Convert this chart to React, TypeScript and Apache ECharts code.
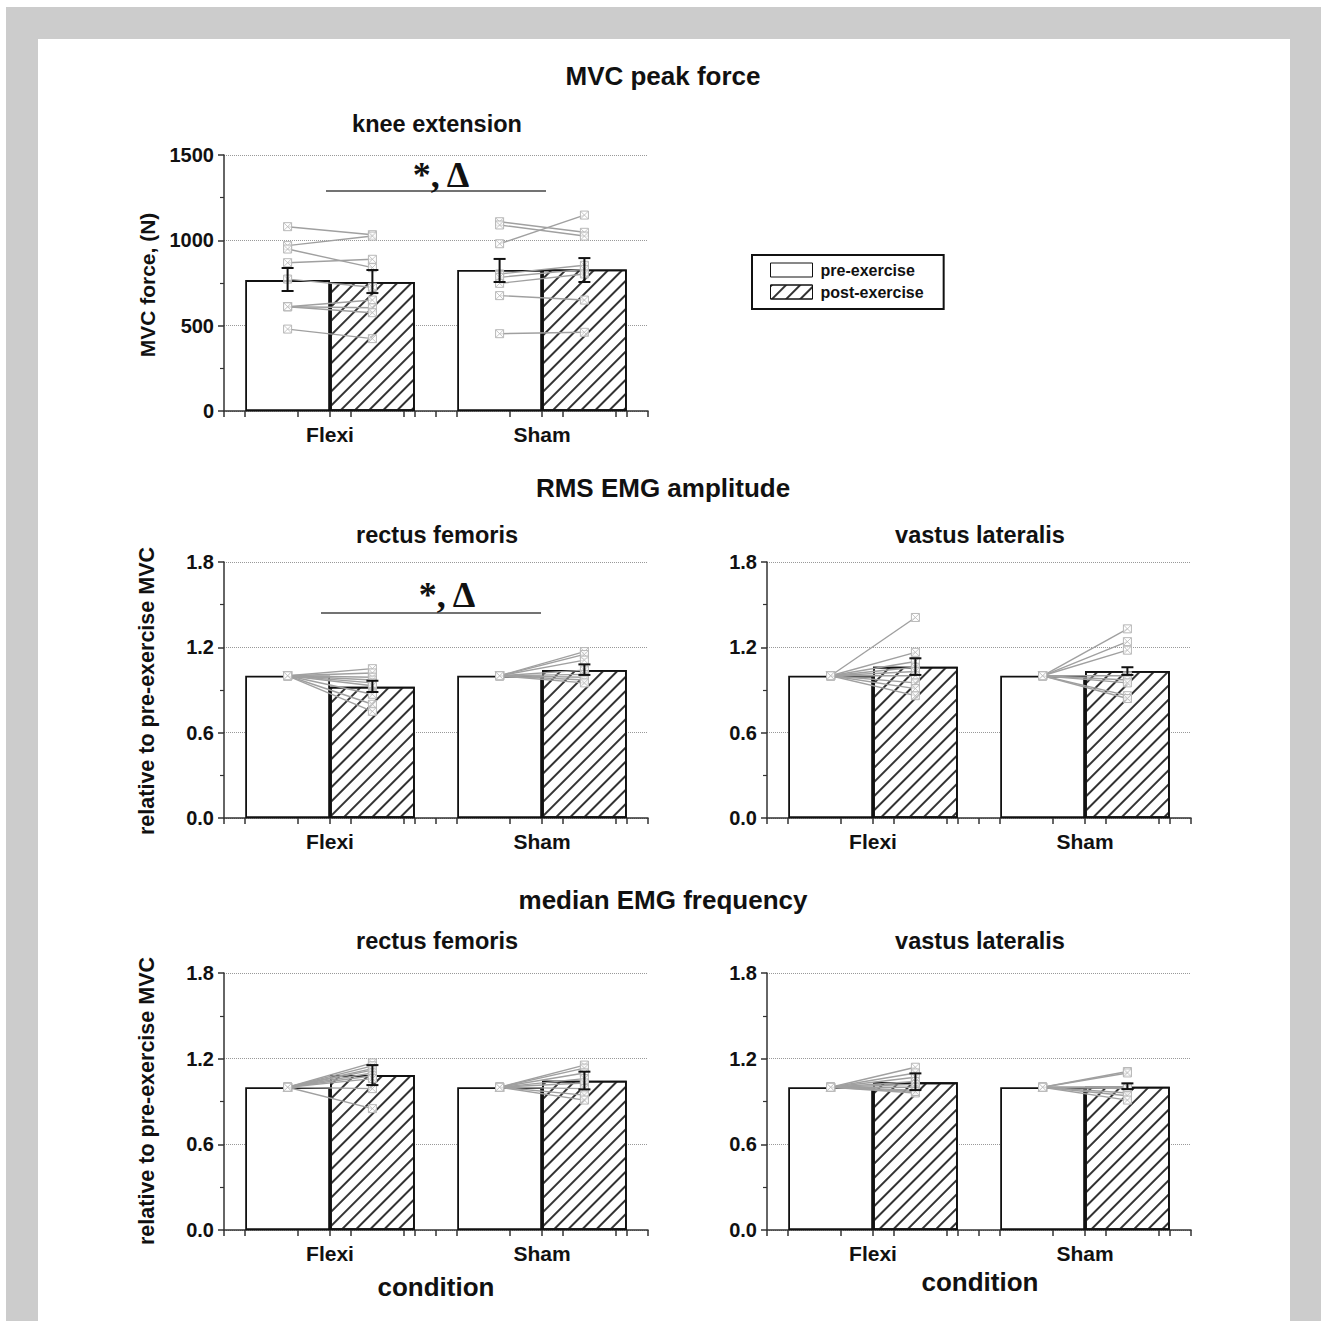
import React, { useEffect, useRef } from 'react';
import * as echarts from 'echarts';

// ---------- data ----------
const categories = ['Flexi', 'Sham'];
const seriesNames = ['pre-exercise', 'post-exercise'];

// knee extension MVC peak force (N)
const mvcPreMean = [767, 826];
const mvcPostMean = [756, 829];
const mvcPreSem = [[703, 838], [756, 891]];
const mvcPostSem = [[691, 826], [756, 896]];
const mvcFlexiPre = [1080, 969, 949, 869, 773, 611, 611, 611, 480];
const mvcFlexiPost = [1033, 1025, 840, 889, 725, 650, 605, 576, 424];
const mvcShamPre = [1109, 1090, 980, 803, 783, 748, 676, 453];
const mvcShamPost = [1047, 1025, 1148, 854, 830, 803, 650, 461];

// relative values (pre-exercise = 1)
const relPreMean = [1, 1];

const rmsRfPostMean = [0.923, 1.041];
const rmsRfPostSem = [[0.886, 0.965], [1.006, 1.08]];
const rmsRfFlexiPost = [1.05, 1.02, 0.99, 0.97, 0.95, 0.93, 0.87, 0.8, 0.75];
const rmsRfShamPost = [1.17, 1.15, 1.11, 1.04, 1.01, 0.99, 0.97, 0.95];

const rmsVlPostMean = [1.064, 1.034];
const rmsVlPostSem = [[1.006, 1.123], [1.006, 1.06]];
const rmsVlFlexiPost = [1.41, 1.165, 1.1, 1.06, 1.03, 1.0, 0.95, 0.91, 0.86];
const rmsVlShamPost = [1.33, 1.24, 1.18, 1.0, 0.97, 0.95, 0.86, 0.84];

const medRfPostMean = [1.085, 1.046];
const medRfPostSem = [[1.015, 1.155], [0.985, 1.109]];
const medRfFlexiPost = [1.17, 1.15, 1.13, 1.12, 1.1, 1.08, 1.06, 0.99, 0.85];
const medRfShamPost = [1.155, 1.134, 1.1, 1.06, 1.03, 0.99, 0.945, 0.91];

const medVlPostMean = [1.034, 1.004];
const medVlPostSem = [[0.98, 1.097], [0.987, 1.027]];
const medVlFlexiPost = [1.14, 1.1, 1.07, 1.04, 1.02, 1.0, 0.98, 0.96, 0.97];
const medVlShamPost = [1.11, 1.1, 1.0, 0.99, 0.96, 0.94, 0.91, 1.0];

const mvcAxis = { min: 0, max: 1500, interval: 500 };
const relAxis = { min: 0, max: 1.8, interval: 0.6 };
const xTickValues = [0, 0.1, 0.35, 0.5, 0.6, 0.85, 0.9, 1, 1.1, 1.35, 1.5, 1.6, 1.85, 1.9, 2];

// ---------- layout ----------
const grids = [
  { left: 224, top: 155, width: 424, height: 256 },
  { left: 224, top: 562, width: 424, height: 256 },
  { left: 767, top: 562, width: 424, height: 256 },
  { left: 224, top: 973, width: 424, height: 257 },
  { left: 767, top: 973, width: 424, height: 257 },
];

const FONT = '"Liberation Sans", Arial, Helvetica, sans-serif';
const INK = '#111';
const AXIS = '#333';
const GRAYLINE = '#a0a0a0';
const MARK = '#b8b8b8';

const pairs = (g: number, pre: number[], post: number[]) => pre.map((p, i) => [g, p, post[i]]);
const ones = (n: number) => new Array(n).fill(1);

const panels = [
  {
    axis: mvcAxis, fmt: (v: number) => String(v),
    preMean: mvcPreMean, postMean: mvcPostMean, preSem: mvcPreSem, postSem: mvcPostSem,
    subjects: [...pairs(0, mvcFlexiPre, mvcFlexiPost), ...pairs(1, mvcShamPre, mvcShamPost)],
  },
  {
    axis: relAxis, fmt: (v: number) => v.toFixed(1),
    preMean: relPreMean, postMean: rmsRfPostMean, preSem: null, postSem: rmsRfPostSem,
    subjects: [...pairs(0, ones(rmsRfFlexiPost.length), rmsRfFlexiPost), ...pairs(1, ones(rmsRfShamPost.length), rmsRfShamPost)],
  },
  {
    axis: relAxis, fmt: (v: number) => v.toFixed(1),
    preMean: relPreMean, postMean: rmsVlPostMean, preSem: null, postSem: rmsVlPostSem,
    subjects: [...pairs(0, ones(rmsVlFlexiPost.length), rmsVlFlexiPost), ...pairs(1, ones(rmsVlShamPost.length), rmsVlShamPost)],
  },
  {
    axis: relAxis, fmt: (v: number) => v.toFixed(1),
    preMean: relPreMean, postMean: medRfPostMean, preSem: null, postSem: medRfPostSem,
    subjects: [...pairs(0, ones(medRfFlexiPost.length), medRfFlexiPost), ...pairs(1, ones(medRfShamPost.length), medRfShamPost)],
  },
  {
    axis: relAxis, fmt: (v: number) => v.toFixed(1),
    preMean: relPreMean, postMean: medVlPostMean, preSem: null, postSem: medVlPostSem,
    subjects: [...pairs(0, ones(medVlFlexiPost.length), medVlFlexiPost), ...pairs(1, ones(medVlShamPost.length), medVlShamPost)],
  },
];

const hatch = {
  symbol: 'rect',
  symbolSize: 1,
  symbolKeepAspect: false,
  dashArrayX: [1, 0],
  dashArrayY: [1.1, 8],
  rotation: -Math.PI / 4,
  color: '#333',
  backgroundColor: '#fff',
};

function marker(p: number[]) {
  const s = 4;
  return [
    { type: 'rect', shape: { x: p[0] - s, y: p[1] - s, width: 2 * s, height: 2 * s }, style: { fill: 'rgba(255,255,255,0.7)', stroke: MARK, lineWidth: 1 } },
    { type: 'line', shape: { x1: p[0] - s, y1: p[1] - s, x2: p[0] + s, y2: p[1] + s }, style: { stroke: MARK, lineWidth: 0.8 } },
    { type: 'line', shape: { x1: p[0] + s, y1: p[1] - s, x2: p[0] - s, y2: p[1] + s }, style: { stroke: MARK, lineWidth: 0.8 } },
  ];
}

function buildOption() {
  const xAxis: any[] = [];
  const yAxis: any[] = [];
  const series: any[] = [];

  panels.forEach((pn, i) => {
    xAxis.push({
      type: 'category', gridIndex: i, data: categories,
      axisLine: { show: false }, axisTick: { show: false },
      axisLabel: { fontFamily: FONT, fontWeight: 'bold', fontSize: 21, color: INK, margin: 13 },
    });
    xAxis.push({
      type: 'value', gridIndex: i, min: 0, max: 2, position: 'bottom',
      axisLine: { show: true, lineStyle: { color: AXIS, width: 1.5 } },
      axisTick: { show: true, customValues: xTickValues, length: 6, lineStyle: { color: AXIS, width: 1.5 } },
      axisLabel: { show: false }, splitLine: { show: false },
    });
    yAxis.push({
      type: 'value', gridIndex: i, min: pn.axis.min, max: pn.axis.max, interval: pn.axis.interval,
      axisLine: { show: true, lineStyle: { color: AXIS, width: 1.5 } },
      axisTick: { show: true, length: 6, lineStyle: { color: AXIS, width: 1.5 } },
      minorTick: { show: true, splitNumber: 2, length: 4, lineStyle: { color: AXIS, width: 1.2 } },
      splitLine: { show: true, lineStyle: { color: '#999', type: 'dotted', width: 1 } },
      axisLabel: { fontFamily: FONT, fontWeight: 'bold', fontSize: 20, color: INK, margin: 10, formatter: pn.fmt },
    });

    const catIdx = 2 * i;
    const valIdx = 2 * i + 1;

    series.push({
      type: 'bar', name: seriesNames[0], xAxisIndex: catIdx, yAxisIndex: i, data: pn.preMean,
      barGap: '0%', barCategoryGap: '20%', z: 2,
      itemStyle: { color: '#fff', borderColor: INK, borderWidth: 1.8 },
    });
    series.push({
      type: 'bar', name: seriesNames[1], xAxisIndex: catIdx, yAxisIndex: i, data: pn.postMean,
      barGap: '0%', barCategoryGap: '20%', z: 2,
      itemStyle: { color: '#fff', borderColor: INK, borderWidth: 1.8, decal: hatch },
    });

    series.push({
      type: 'custom', xAxisIndex: valIdx, yAxisIndex: i, z: 5, silent: true,
      dimensions: ['g', 'pre', 'post'],
      encode: { x: 0, y: [1, 2] },
      data: pn.subjects,
      renderItem: (params: any, api: any) => {
        const g = api.value(0);
        const p1 = api.coord([g + 0.3, api.value(1)]);
        const p2 = api.coord([g + 0.7, api.value(2)]);
        return {
          type: 'group',
          children: [
            { type: 'line', shape: { x1: p1[0], y1: p1[1], x2: p2[0], y2: p2[1] }, style: { stroke: GRAYLINE, lineWidth: 1.4 } },
            ...marker(p1), ...marker(p2),
          ],
        };
      },
    });

    const errData: number[][] = [];
    [0, 1].forEach((g) => {
      if (pn.preSem) errData.push([g + 0.3, pn.preSem[g][0], pn.preSem[g][1]]);
      errData.push([g + 0.7, pn.postSem[g][0], pn.postSem[g][1]]);
    });
    series.push({
      type: 'custom', xAxisIndex: valIdx, yAxisIndex: i, z: 6, silent: true,
      dimensions: ['x', 'lo', 'hi'],
      encode: { x: 0, y: [1, 2] },
      data: errData,
      renderItem: (params: any, api: any) => {
        const lo = api.coord([api.value(0), api.value(1)]);
        const hi = api.coord([api.value(0), api.value(2)]);
        const c = 6;
        const st = { stroke: INK, lineWidth: 2 };
        return {
          type: 'group',
          children: [
            { type: 'line', shape: { x1: lo[0], y1: lo[1], x2: hi[0], y2: hi[1] }, style: st },
            { type: 'line', shape: { x1: lo[0] - c, y1: lo[1], x2: lo[0] + c, y2: lo[1] }, style: st },
            { type: 'line', shape: { x1: hi[0] - c, y1: hi[1], x2: hi[0] + c, y2: hi[1] }, style: st },
          ],
        };
      },
    });
  });

  const txt = (text: string, x: number, y: number, size: number, extra: any = {}) => ({
    type: 'text', x, y, z: 10, ...extra,
    style: { text, fontFamily: FONT, fontWeight: 'bold', fontSize: size, fill: INK, textAlign: 'center', textVerticalAlign: 'middle', ...(extra.style || {}) },
  });
  const sig = (x: number, y: number) => ({
    type: 'text', x, y, z: 10,
    style: { text: '*, Δ', fontFamily: '"Liberation Serif", "Times New Roman", serif', fontWeight: 'bold', fontSize: 36, fill: INK, textAlign: 'center', textVerticalAlign: 'middle' },
  });

  const graphic = [
    { type: 'rect', z: -20, shape: { x: 6, y: 7, width: 1315, height: 1314 }, style: { fill: '#cccccc' } },
    { type: 'rect', z: -19, shape: { x: 38, y: 39, width: 1252, height: 1282 }, style: { fill: '#ffffff' } },
    txt('MVC peak force', 663, 76, 26),
    txt('knee extension', 437, 124, 23.5),
    txt('RMS EMG amplitude', 663, 488, 26),
    txt('rectus femoris', 437, 535, 23.5),
    txt('vastus lateralis', 980, 535, 23.5),
    txt('median EMG frequency', 663, 900, 26),
    txt('rectus femoris', 437, 941, 23.5),
    txt('vastus lateralis', 980, 941, 23.5),
    txt('condition', 436, 1287, 26),
    txt('condition', 980, 1282, 26),
    txt('MVC force, (N)', 147, 285, 21, { rotation: Math.PI / 2 }),
    txt('relative to pre-exercise MVC', 147, 691, 21.5, { rotation: Math.PI / 2 }),
    txt('relative to pre-exercise MVC', 147, 1101, 21.5, { rotation: Math.PI / 2 }),
    { type: 'line', z: 10, shape: { x1: 326, y1: 191, x2: 546, y2: 191 }, style: { stroke: '#444', lineWidth: 1.5 } },
    sig(441, 175),
    { type: 'line', z: 10, shape: { x1: 321, y1: 613, x2: 541, y2: 613 }, style: { stroke: '#444', lineWidth: 1.5 } },
    sig(447, 595),
  ];

  return {
    animation: false,
    backgroundColor: 'transparent',
    grid: grids.map((g) => ({ ...g, containLabel: false })),
    xAxis, yAxis, series, graphic,
    legend: {
      data: seriesNames, orient: 'vertical', left: 752, top: 255,
      icon: 'rect', itemWidth: 42, itemHeight: 14, itemGap: 6,
      padding: [7, 20, 9, 18],
      borderColor: INK, borderWidth: 2, backgroundColor: '#fff',
      itemStyle: { borderWidth: 1 },
      selectedMode: false,
      textStyle: { fontFamily: FONT, fontWeight: 'bold', fontSize: 16, color: INK, padding: [0, 0, 0, 3] },
    },
  };
}

export default function App() {
  const ref = useRef<HTMLDivElement>(null);
  useEffect(() => {
    if (!ref.current) return;
    const chart = echarts.init(ref.current, undefined, { renderer: 'svg' });
    chart.setOption(buildOption() as any);
    return () => chart.dispose();
  }, []);
  return <div ref={ref} style={{ position: 'absolute', left: 0, top: 0, width: 1321, height: 1321, background: '#fff' }} />;
}
